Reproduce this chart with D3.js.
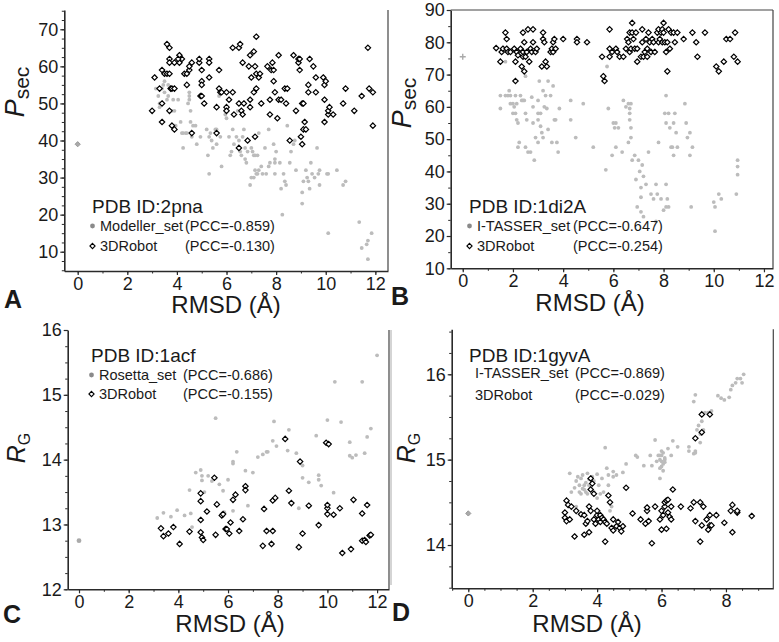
<!DOCTYPE html>
<html><head><meta charset="utf-8">
<script src="https://cdn.jsdelivr.net/npm/d3@7"></script>
<style>body{margin:0;background:#fff}text{font-family:"Liberation Sans",Arial,sans-serif;fill:#1a1a1a}</style>
</head><body><svg id="c" width="779" height="642"></svg>
<script>
// ---------- DATA ----------
const panelLetters = ["A","B","C","D"];
const pdbIds = ["PDB ID:2pna","PDB ID:1di2A","PDB ID:1acf","PDB ID:1gyvA"];
const setNames = ["Modeller_set","I-TASSER_set","Rosetta_set","I-TASSER_set"];
const setPCC = ["(PCC=-0.859)","(PCC=-0.647)","(PCC=-0.686)","(PCC=-0.869)"];
const robotPCC = ["(PCC=-0.130)","(PCC=-0.254)","(PCC=-0.155)","(PCC=-0.029)"];
const robotName = "3DRobot";
const xTitle = "RMSD (Å)";

const xTicksA = [0,2,4,6,8,10,12], yTicksA = [10,20,30,40,50,60,70];
const xTicksB = [0,2,4,6,8,10,12], yTicksB = [10,20,30,40,50,60,70,80,90];
const xTicksC = [0,2,4,6,8,10,12], yTicksC = [12,13,14,15,16];
const xTicksD = [0,2,4,6,8],       yTicksD = [14,15,16];

const nativeA = [0,39], nativeB = [0,75.5], nativeC = [0,12.75], nativeD = [0,14.37];

const modellerA = [[3.15,54],[3.25,52],[3.3,49],[3.3,50],[3.4,54],[3.45,55],[3.5,56],[3.5,53],[3.6,51],[3.65,55],[3.65,52],[3.7,54],[3.8,48],[3.85,51],[3.9,48],[3.9,44],[3.95,44],[4.05,51],[4.15,45],[4.2,42],[4.25,42],[4.25,38],[4.35,42],[4.4,42],[4.45,50],[4.5,51],[4.5,52],[4.5,53],[4.55,48],[4.55,45],[4.6,41],[4.65,44],[4.75,44],[4.8,39],[4.95,41],[5.2,43],[5.25,36],[5.3,31],[5.3,41],[5.35,42],[5.4,40],[5.45,38],[5.55,43],[5.6,39],[5.6,43],[5.7,52],[5.75,41],[5.8,33],[5.95,48],[5.95,47],[6.0,46],[6.1,41],[6.15,36],[6.2,37],[6.25,43],[6.3,39],[6.4,41],[6.45,48],[6.5,40],[6.55,37],[6.6,36],[6.65,41],[6.7,43],[6.75,38],[6.75,35],[6.8,34],[6.85,37],[6.95,28],[7.0,38],[7.0,30],[7.05,37],[7.1,36],[7.1,30],[7.15,32],[7.15,36],[7.2,31],[7.25,36],[7.25,31],[7.3,32],[7.3,42],[7.4,33],[7.45,31],[7.55,38],[7.6,31],[7.7,33],[7.7,43],[7.75,34],[7.9,39],[7.95,31],[7.95,35],[7.95,34],[8.0,37],[8.15,34],[8.2,27],[8.25,20],[8.3,31],[8.35,29],[8.4,28],[8.45,44],[8.55,34],[8.6,37],[8.7,39],[8.75,40],[8.8,32],[8.95,41],[9.05,23],[9.05,26],[9.1,29],[9.2,32],[9.25,30],[9.3,29],[9.35,27],[9.4,34],[9.45,31],[9.55,30],[9.65,38],[9.7,31],[9.75,28],[9.75,32],[10.05,31],[10.1,31],[10.1,15],[10.45,32],[10.7,28],[10.8,29],[11.35,18],[11.45,11],[11.65,12],[11.7,13],[11.7,8],[11.85,15]];

const robotA = [[3.0,48],[3.1,57],[3.4,45],[3.4,59],[3.5,58],[3.6,66],[3.7,65],[3.6,58],[3.7,58],[3.3,54],[3.4,50],[3.7,62],[3.7,61],[3.75,54],[3.8,54],[3.9,54],[3.7,48],[3.8,44],[3.9,43],[3.9,61],[4.1,61],[4.1,63],[4.2,62],[4.05,62],[4.3,58],[4.4,58],[4.4,55],[4.5,59],[4.5,60],[4.6,61],[4.6,42],[4.9,61],[4.9,62],[4.95,52],[5.0,52],[5.0,59],[5.0,56],[5.0,55],[5.1,50],[5.3,62],[5.3,61],[5.3,57],[5.6,49],[5.6,42],[5.7,59],[5.7,54],[5.75,53],[5.8,53],[6.0,53],[6.0,49],[6.0,48],[6.1,51],[6.25,53],[6.25,65],[6.3,47],[6.5,65],[6.55,66],[6.5,50],[6.5,38],[6.6,48],[6.65,47],[6.65,61],[6.7,50],[6.85,40],[6.9,60],[6.95,63],[6.95,51],[6.95,49],[7.0,57],[7.1,53],[7.1,64],[7.15,41],[7.15,60],[7.2,54],[7.2,68],[7.2,58],[7.3,57],[7.35,58],[7.4,50],[7.65,60],[7.75,47],[7.75,51],[7.8,59],[7.85,61],[7.9,56],[7.9,59],[7.95,53],[8.05,46],[8.1,51],[8.1,63],[8.2,51],[8.35,54],[8.4,50],[8.45,54],[8.55,40],[8.7,63],[8.8,48],[8.9,61],[8.9,62],[8.95,62],[8.95,59],[9.0,41],[9.05,50],[9.05,39],[9.1,43],[9.1,50],[9.15,45],[9.2,43],[9.3,53],[9.3,55],[9.35,62],[9.5,60],[9.6,57],[9.6,53],[9.9,57],[9.95,51],[9.95,55],[9.95,45],[10.0,56],[10.1,47],[10.1,48],[10.15,49],[10.3,47],[10.7,50],[10.8,54],[11.15,48],[11.45,52],[11.7,65],[11.75,54],[11.9,53],[11.9,44]];

const itasserB = [[1.5,63.5],[1.5,59.5],[1.7,63.5],[1.7,74],[1.8,63.5],[1.85,65],[1.9,63.5],[1.9,61],[2.0,61],[2.0,58],[2.05,60],[2.1,58],[2.1,63.5],[2.15,56],[2.15,61],[2.2,47.5],[2.2,55],[2.25,49],[2.3,63.5],[2.35,62],[2.4,62],[2.45,62],[2.5,47.5],[2.5,58],[2.5,69.5],[2.55,56],[2.6,46],[2.7,46],[2.75,63],[2.8,55],[2.8,60],[2.85,43.5],[2.9,50.5],[3.0,62],[3.0,58],[3.0,56],[3.0,49],[3.05,68],[3.1,58],[3.1,54],[3.15,52],[3.2,65],[3.2,50.5],[3.25,60],[3.3,63.5],[3.35,59.5],[3.4,68],[3.4,53],[3.5,63.5],[3.55,49],[3.6,66.5],[3.65,56],[3.7,56],[3.75,49],[3.8,46],[3.85,59.5],[4.3,62],[4.3,56],[4.5,50.5],[4.8,61],[5.2,47.5],[5.6,68],[5.7,40.5],[5.75,72.5],[5.8,59.5],[5.95,45],[6.0,55],[6.05,53.5],[6.1,55],[6.1,47.5],[6.2,53.5],[6.35,46],[6.4,62],[6.5,60],[6.6,49],[6.6,61],[6.65,58],[6.65,59.5],[6.65,56],[6.7,53.5],[6.7,50.5],[6.7,61],[6.75,43.5],[6.85,45],[6.9,37.5],[6.95,29],[7.0,43.5],[7.05,40],[7.1,35],[7.1,32],[7.1,27.5],[7.15,42],[7.2,38.5],[7.2,26],[7.3,36],[7.4,46],[7.5,33],[7.6,31.5],[7.7,36],[7.7,24.5],[7.75,33],[7.8,49],[7.9,31.5],[8.0,28],[8.05,58],[8.1,63.5],[8.1,55],[8.1,36],[8.1,29],[8.15,31.5],[8.2,58],[8.2,29],[8.25,53.5],[8.3,47.5],[8.35,47.5],[8.4,45],[8.4,55],[8.45,58],[8.5,52],[8.55,47.5],[8.85,61],[8.9,55],[8.95,50.5],[9.05,52],[9.05,45],[9.15,47.5],[9.1,29],[10.0,30.5],[10.05,29],[10.05,21.5],[10.2,33],[10.3,31.5],[10.9,33],[10.95,39],[10.95,41.5],[10.95,43.5]];

const robotB = [[1.33,78.2],[1.5,74],[1.55,77],[1.6,78],[1.7,83],[1.75,81],[1.75,78],[1.8,77],[1.9,77],[2.05,78],[2.1,74],[2.15,77],[2.1,68],[2.2,76],[2.3,78],[2.35,72.5],[2.4,75.5],[2.4,77],[2.4,83],[2.45,71],[2.45,80],[2.5,75.5],[2.55,77],[2.6,84],[2.65,74],[2.7,78],[2.75,77],[2.8,84],[2.8,80],[2.9,77],[2.95,78],[3.15,72.5],[3.2,83],[3.2,81],[3.3,74],[3.25,80],[3.35,72.5],[3.5,77],[3.55,78],[3.6,80],[3.6,77],[3.65,81],[3.7,78],[4.0,81],[4.55,81],[4.55,80],[4.95,80],[5.55,75.5],[5.6,69.5],[5.65,68],[5.85,84],[5.85,75.5],[5.85,78],[5.95,77],[6.1,78],[6.15,77],[6.25,75.5],[6.4,75.5],[6.5,78],[6.55,81],[6.6,80],[6.65,83],[6.65,77],[6.7,78],[6.75,83],[6.8,81],[6.75,86],[6.85,78],[6.9,83],[6.95,74],[6.95,78],[7.1,75.5],[7.15,84],[7.15,80],[7.2,75.5],[7.25,77],[7.3,81],[7.35,78],[7.35,75.5],[7.4,83],[7.45,80],[7.5,77],[7.55,81],[7.6,80],[7.65,77],[7.75,83],[7.8,84],[7.8,80],[7.85,81],[7.9,83],[7.95,84],[7.95,80],[8.0,86],[8.0,83],[8.05,80],[8.1,77],[8.15,80],[8.15,71],[8.2,84],[8.25,78],[8.3,83],[8.4,83],[8.45,80],[8.55,83],[8.8,81],[9.15,83],[9.3,80],[9.35,75.5],[9.65,83],[10.1,72.5],[10.2,71],[10.4,74],[10.5,81],[10.65,81],[10.8,75.5],[10.85,83],[10.95,74]];

const rosettaC = [[3.15,13.1],[3.4,13.18],[3.7,13.12],[3.95,13.22],[4.25,13.14],[4.45,13.53],[4.5,13.17],[4.55,12.96],[4.7,13.8],[4.9,13.84],[4.95,13.68],[4.95,13.75],[5.05,13.5],[5.2,13.75],[5.35,13.67],[5.5,13.72],[5.5,14.64],[5.65,13.62],[5.8,13.52],[5.85,13.19],[6.0,13.69],[6.2,13.97],[6.2,13.94],[6.2,13.21],[6.35,14.12],[6.7,13.83],[6.8,13.29],[7.0,13.8],[7.2,14.04],[7.4,14.08],[7.55,14.12],[7.6,14.12],[7.8,14.29],[7.85,14.59],[7.95,14.21],[8.45,14.46],[8.4,14.14],[8.75,14.1],[8.85,13.25],[9.0,13.91],[9.0,13.72],[9.25,13.65],[9.55,14.37],[9.65,13.76],[9.65,13.69],[9.75,13.6],[10.0,14.61],[10.25,13.49],[10.3,15.2],[10.55,14.58],[10.9,14.27],[10.9,14.06],[11.0,14.03],[11.15,14.07],[11.4,15.2],[11.5,14.1],[11.6,14.35],[11.75,14.48],[12.0,15.61]];

const robotC = [[3.3,12.94],[3.4,12.82],[3.6,12.86],[3.8,12.96],[4.05,12.7],[4.45,12.89],[4.9,12.88],[4.9,13.07],[4.9,13.36],[4.9,13.48],[4.95,12.8],[5.0,12.76],[5.15,13.2],[5.45,13.72],[5.5,12.84],[5.55,13.31],[5.75,13.14],[5.8,13.16],[5.9,12.93],[5.95,12.93],[6.05,12.86],[6.1,13.03],[6.2,13.38],[6.3,13.46],[6.45,12.9],[6.6,13.08],[6.7,13.59],[6.7,13.53],[7.4,12.67],[7.45,13.24],[7.55,12.9],[7.75,12.7],[7.8,12.9],[7.8,13.37],[7.9,13.41],[8.3,14.32],[8.45,13.52],[8.55,13.33],[8.85,12.65],[8.9,13.97],[9.0,12.86],[9.25,13.29],[9.65,12.99],[9.95,14.26],[10.05,14.24],[10.0,13.25],[10.0,13.16],[10.0,13.3],[10.25,13.15],[10.5,13.25],[10.6,12.56],[10.95,12.62],[11.05,13.38],[11.4,13.17],[11.4,12.75],[11.5,12.76],[11.55,12.73],[11.6,13.3],[11.7,12.83],[11.75,12.84]];

const itasserD = [[3.15,14.84],[3.2,14.62],[3.3,14.67],[3.35,14.75],[3.4,14.8],[3.45,14.7],[3.5,14.6],[3.5,14.78],[3.55,14.82],[3.6,14.7],[3.6,14.65],[3.65,14.73],[3.7,14.84],[3.7,14.6],[3.75,14.77],[3.8,14.68],[3.85,14.8],[3.9,14.62],[3.9,14.75],[4.0,14.83],[4.05,14.7],[4.1,14.6],[4.2,14.62],[4.25,15.14],[4.3,14.9],[4.35,14.7],[4.4,14.4],[4.45,14.45],[4.5,14.8],[4.6,14.82],[4.8,14.85],[4.5,14.86],[4.35,14.82],[3.35,14.45],[3.55,14.66],[3.65,14.62],[3.45,14.62],[3.75,14.7],[4.15,14.78],[4.0,14.55],[4.9,14.95],[5.2,15.05],[5.25,15.03],[5.45,14.93],[5.65,15.05],[5.7,14.93],[5.8,15.23],[5.85,14.98],[5.9,15.05],[5.95,15.0],[6.0,15.05],[6.05,14.95],[6.0,14.92],[6.05,15.08],[6.1,15.02],[5.95,14.9],[6.0,15.1],[6.1,15.0],[6.05,14.87],[6.1,14.97],[5.95,14.78],[6.0,14.98],[5.95,15.05],[6.2,15.13],[6.35,15.22],[6.3,15.05],[6.5,15.15],[6.85,15.1],[6.85,15.15],[7.0,15.07],[7.05,15.08],[7.05,15.1],[7.0,15.68],[7.05,15.76],[7.1,15.35],[7.15,15.4],[7.2,15.3],[7.2,15.2],[7.25,15.45],[7.3,15.35],[7.35,15.55],[7.45,15.55],[7.55,15.57],[7.75,15.75],[7.85,15.72],[7.95,15.7],[8.1,15.73],[8.15,15.82],[8.2,15.87],[8.3,15.9],[8.35,15.95],[8.45,15.95],[8.5,15.9],[8.55,16.0]];

const robotD = [[3.0,14.38],[3.0,14.32],[3.05,14.28],[3.05,14.52],[3.1,14.47],[3.15,14.3],[3.2,14.45],[3.3,14.1],[3.35,14.4],[3.5,14.36],[3.6,14.12],[3.6,14.35],[3.65,14.25],[3.7,14.28],[3.75,14.15],[3.75,14.45],[3.8,14.4],[3.8,14.65],[3.85,14.72],[3.8,14.78],[3.9,14.6],[3.9,14.3],[3.95,14.25],[4.0,14.35],[4.0,14.4],[4.05,14.3],[4.1,14.27],[4.1,14.35],[4.15,14.32],[4.2,14.3],[4.25,14.04],[4.25,14.27],[4.3,14.25],[4.35,14.58],[4.4,14.5],[4.45,14.2],[4.5,14.3],[4.5,14.17],[4.6,14.22],[4.65,14.27],[4.7,14.2],[4.75,14.16],[4.8,14.22],[4.9,14.67],[5.1,14.37],[5.35,14.3],[5.5,14.25],[5.55,14.4],[5.55,14.44],[5.6,14.28],[5.7,14.02],[5.8,14.45],[5.95,14.3],[6.0,14.18],[6.0,14.4],[6.05,14.35],[6.1,14.45],[6.1,14.5],[6.15,14.52],[6.15,14.19],[6.2,14.38],[6.2,14.53],[6.25,14.33],[6.3,14.45],[6.3,14.3],[6.35,14.65],[6.6,14.45],[6.9,14.43],[7.0,14.5],[7.05,14.28],[7.05,15.25],[7.2,14.5],[7.2,14.04],[7.25,14.23],[7.25,15.32],[7.25,15.53],[7.3,14.45],[7.4,14.3],[7.45,14.18],[7.5,14.35],[7.5,15.53],[7.5,14.23],[7.55,14.23],[7.7,14.35],[7.95,14.26],[8.15,14.4],[8.2,14.47],[8.2,14.15],[8.35,14.38],[8.35,14.4],[8.8,14.34]];

// ---------- LAYOUT ----------
const panels = [
  {L:64.3,R:388,T:10,B:271, xd:[-0.54,12.51], yd:[4.8,75.2], xt:xTicksA, yt:yTicksA, xm:1, ym:2.5,
   gray:modellerA, robot:robotA, nat:nativeA, natType:"diamond", ylab:["P","sec"], ylabX:24, ylabY:92,
   letter:[4,308], title:[226,313], leg:{x:92,y:213,px:185,l1:231,l2:251,marker:true}, topLine:false},
  {L:450.7,R:773,T:10,B:268.3, xd:[-0.48,12.36], yd:[10,90], xt:xTicksB, yt:yTicksB, xm:1, ym:5,
   gray:itasserB, robot:robotB, nat:nativeB, natType:"plus", ylab:["P","sec"], ylabX:411, ylabY:103,
   letter:[391,305], title:[590,311], leg:{x:469,y:213,px:573,l1:231,l2:251,marker:true}, topLine:true},
  {L:67.7,R:389,T:330,B:589.3, xd:[-0.455,12.48], yd:[12,16], xt:xTicksC, yt:yTicksC, xm:1, ym:0.25,
   gray:rosettaC, robot:robotC, nat:nativeC, natType:"circle", ylab:["R","G"], ylabX:25, ylabY:448,
   letter:[3,623], title:[230,632], leg:{x:91,y:362,px:183,l1:380,l2:399,marker:true}, topLine:false},
  {L:451.7,R:773.3,T:329.3,B:588.3, xd:[-0.515,9.47], yd:[13.493,16.527], xt:xTicksD, yt:yTicksD, xm:0.5, ym:0.25,
   gray:itasserD, robot:robotD, nat:nativeD, natType:"diamond", ylab:["R","G"], ylabX:415, ylabY:448,
   letter:[392,621], title:[587,632], leg:{x:469,y:362,px:575,l1:378,l2:400,marker:false}, topLine:false}
];

const svg = d3.select("#c");
const GRAY = "#bcbcbc", AX = "#2a2a2a";
const diamond = (cx,cy,s) => `M${cx},${cy-s}L${cx+s},${cy}L${cx},${cy+s}L${cx-s},${cy}Z`;
const fmt = d => String(d);

panels.forEach((p,i) => {
  const x = d3.scaleLinear().domain(p.xd).range([p.L,p.R]);
  const y = d3.scaleLinear().domain(p.yd).range([p.B,p.T]);
  const g = svg.append("g");

  // minor ticks
  const xMinor = d3.range(Math.ceil(p.xd[0]/p.xm)*p.xm, p.xd[1]+1e-9, p.xm);
  const yMinor = d3.range(Math.ceil(p.yd[0]/p.ym)*p.ym, p.yd[1]+1e-9, p.ym);
  g.append("g").attr("transform",`translate(0,${p.B})`)
    .call(d3.axisBottom(x).tickValues(xMinor).tickSize(2.5).tickSizeOuter(0).tickFormat(""))
    .call(a=>a.select(".domain").remove()).selectAll("line").attr("stroke",AX);
  g.append("g").attr("transform",`translate(${p.L},0)`)
    .call(d3.axisLeft(y).tickValues(yMinor).tickSize(2.5).tickSizeOuter(0).tickFormat(""))
    .call(a=>a.select(".domain").remove()).selectAll("line").attr("stroke",AX);

  // major axes
  const xa = g.append("g").attr("transform",`translate(0,${p.B})`)
    .call(d3.axisBottom(x).tickValues(p.xt).tickFormat(fmt).tickSize(4).tickSizeOuter(0).tickPadding(2));
  const ya = g.append("g").attr("transform",`translate(${p.L},0)`)
    .call(d3.axisLeft(y).tickValues(p.yt).tickFormat(fmt).tickSize(4).tickSizeOuter(0).tickPadding(2));
  [xa,ya].forEach(a=>{
    a.select(".domain").attr("stroke",AX).attr("stroke-width",1.6);
    a.selectAll(".tick line").attr("stroke",AX).attr("stroke-width",1.2);
    a.selectAll(".tick text").style("font-size","18px").attr("fill","#1a1a1a");
  });
  // right border (and top)
  g.append("line").attr("x1",p.R).attr("x2",p.R).attr("y1",p.T).attr("y2",p.B)
    .attr("stroke","#444").attr("stroke-width",1.2);
  if(p.topLine) g.append("line").attr("x1",p.L).attr("x2",p.R).attr("y1",p.T).attr("y2",p.T)
    .attr("stroke","#444").attr("stroke-width",1.2);

  // gray set points
  g.append("g").selectAll("circle").data(p.gray).join("circle")
    .attr("cx",d=>x(d[0])).attr("cy",d=>y(d[1])).attr("r",1.9).attr("fill",GRAY);
  // 3DRobot diamonds
  g.append("g").selectAll("path").data(p.robot).join("path")
    .attr("d",d=>diamond(x(d[0]),y(d[1]),2.7)).attr("fill","#fff").attr("stroke","#000").attr("stroke-width",1.2);

  // native point
  const nx=x(p.nat[0]), ny=y(p.nat[1]);
  if(p.natType==="diamond") g.append("path").attr("d",diamond(nx,ny,2.6)).attr("fill","#aaa").attr("stroke","#999");
  else if(p.natType==="plus") g.append("path").attr("d",`M${nx-3},${ny}H${nx+3}M${nx},${ny-3}V${ny+3}`).attr("stroke","#aaa").attr("stroke-width",1.4);
  else g.append("circle").attr("cx",nx).attr("cy",ny).attr("r",2.4).attr("fill","#aaa");

  // y label
  const yl = svg.append("text").attr("transform",`translate(${p.ylabX},${p.ylabY}) rotate(-90)`).attr("text-anchor","middle");
  yl.append("tspan").text(p.ylab[0]).style("font-size", i<2?"27px":"25px").style("font-style","italic");
  yl.append("tspan").text(p.ylab[1]).style("font-size", i<2?"21px":"16px").attr("dy", 5);

  // x title
  svg.append("text").attr("x",p.title[0]).attr("y",p.title[1]).attr("text-anchor","middle").style("font-size","24px").text(xTitle);
  // panel letter
  svg.append("text").attr("x",p.letter[0]).attr("y",p.letter[1]).style("font-size","25px").style("font-weight","bold").attr("fill","#000").text(panelLetters[i]);

  // legend
  const lg = p.leg;
  svg.append("text").attr("x",lg.x).attr("y",lg.y).style("font-size","19px").text(pdbIds[i]);
  const tx = lg.marker ? lg.x+8 : lg.x+6;
  if(lg.marker){
    svg.append("circle").attr("cx",lg.x+0.5).attr("cy",lg.l1-5).attr("r",2.4).attr("fill","#8a8a8a");
    svg.append("path").attr("d",diamond(lg.x+0.5,lg.l2-5,2.6)).attr("fill","#fff").attr("stroke","#000").attr("stroke-width",1.1);
  }
  [[setNames[i],setPCC[i],lg.l1],[robotName,robotPCC[i],lg.l2]].forEach(r=>{
    svg.append("text").attr("x",tx).attr("y",r[2]).style("font-size","14.5px").attr("fill","#333").text(r[0]);
    svg.append("text").attr("x",lg.px).attr("y",r[2]).style("font-size","14.5px").attr("fill","#333").text(r[1]);
  });
});
// faint left border line of panel D (as in the reference)
svg.append("line").attr("x1",391).attr("x2",391).attr("y1",330).attr("y2",585).attr("stroke","#aaa").attr("stroke-width",1);
</script></body></html>
